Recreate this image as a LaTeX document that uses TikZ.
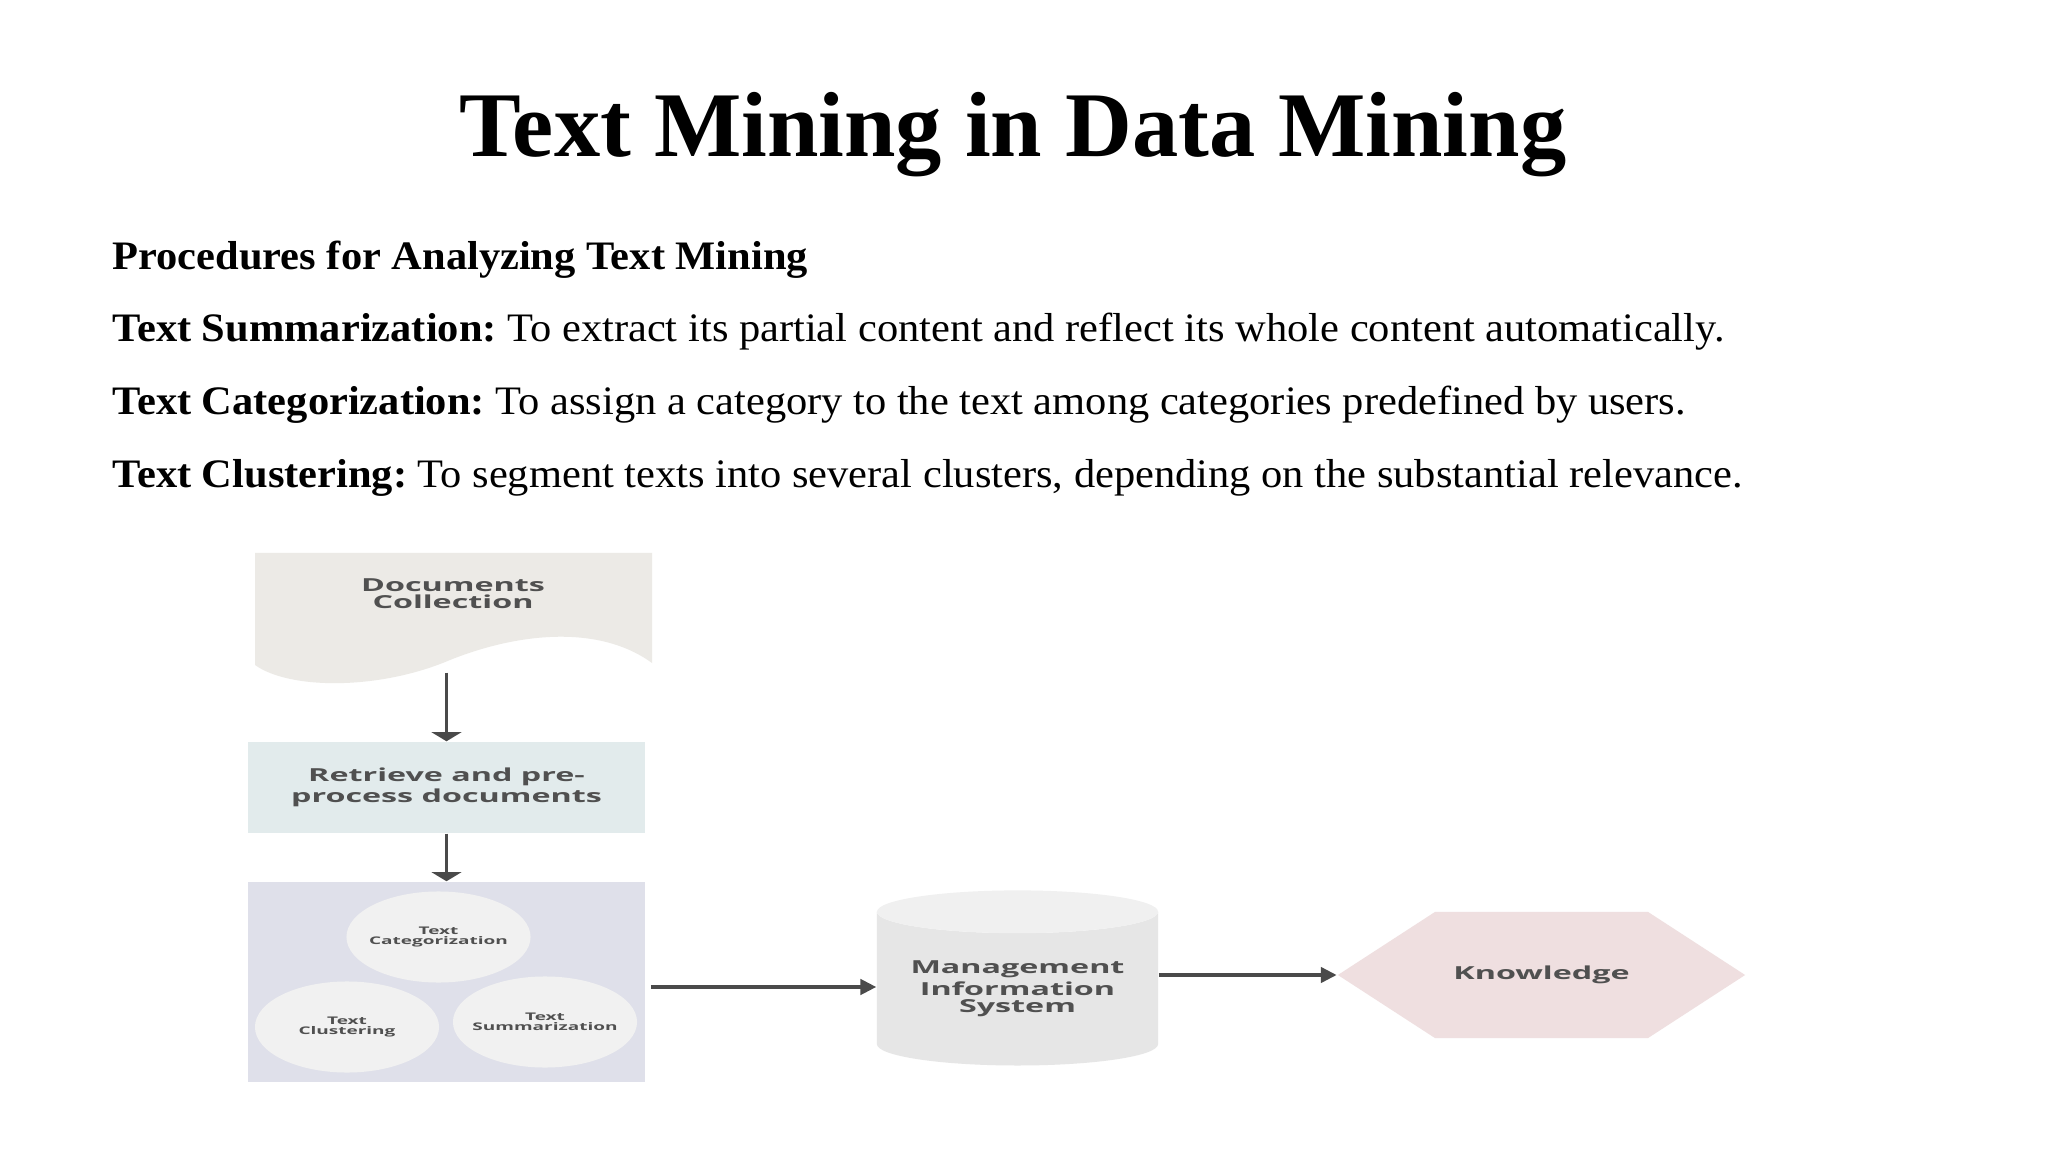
\documentclass[tikz,border=0pt]{standalone}
\usepackage{fontspec}
\setmainfont{Liberation Serif}
\newfontfamily\bodyfont[FakeStretch=1.05]{Liberation Serif}
\newfontfamily\diagfont[FakeStretch=1.8]{Open Sans}
\usetikzlibrary{arrows.meta,shapes.geometric,shapes.symbols}
\definecolor{docfill}{HTML}{ECEAE6}
\definecolor{prepfill}{HTML}{E2EBEC}
\definecolor{toolfill}{HTML}{DFE0EA}
\definecolor{blobfill}{HTML}{F1F1F1}
\definecolor{misbody}{HTML}{E6E6E6}
\definecolor{mistop}{HTML}{F0F0F0}
\definecolor{knowfill}{HTML}{EFDFE0}
\definecolor{labelgray}{HTML}{505050}
\definecolor{arrowgray}{HTML}{4A4A4A}
\frenchspacing
\begin{document}
\begin{tikzpicture}[x=0.01cm, y=-0.01cm,
	lbl/.style={font=\diagfont\bfseries\fontsize{5.1}{4.84}\selectfont, text=labelgray, align=center, inner sep=0pt},
	small/.style={font=\diagfont\bfseries\fontsize{3}{2.85}\selectfont, text=labelgray, align=center, inner sep=0pt},
	blob/.style={small, ellipse, fill=blobfill, inner xsep=-2.5pt, minimum width=1.84cm, minimum height=0.91cm},
	down/.style={draw=arrowgray, line width=0.9pt, -{Triangle[width=8.5pt,length=2.6pt]}},
	side/.style={draw=arrowgray, line width=0.9pt, -{Triangle[width=4.4pt,length=4.5pt]}},
	body/.style={anchor=base west, inner sep=0pt, font=\bodyfont\fontsize{11.5}{14}\selectfont}]
	\useasboundingbox[fill=white] (0,0) rectangle (2048,1152);
	% heading and the list of procedures
	\node[anchor=base, inner sep=0pt, font=\bfseries\fontsize{26.3}{30}\selectfont] (title) at (1013,157) {Text Mining in Data Mining};
	\node[body] (proc) at (112,270) {\textbf{Procedures for Analyzing Text Mining}};
	\node[body] (summ) at (112,342) {\textbf{Text Summarization:} To extract its partial content and reflect its whole content automatically.};
	\node[body] (categ) at (112,415) {\textbf{Text Categorization:} To assign a category to the text among categories predefined by users.};
	\node[body] (clust) at (112,488) {\textbf{Text Clustering:} To segment texts into several clusters, depending on the substantial relevance.};
	% document shape with wavy bottom
	\fill[docfill] (255,553) -- (652,553) -- (652,663) .. controls (600,625) and (520,632) .. (450,660) .. controls (380,690) and (290,690) .. (255,665) -- cycle;
	\node[lbl, minimum width=3.97cm, minimum height=1.12cm] (doc) at (453.5,609) {};
	\node[lbl] (doctext) at (453,594) {Documents\\Collection};
	\node[lbl, fill=prepfill, minimum width=3.97cm, minimum height=0.91cm] (prep) at (446.5,787.5) {Retrieve and pre-\\process documents};
	\node[fill=toolfill, minimum width=3.97cm, minimum height=2cm] (tools) at (446.5,982) {};
	\node[blob] (cat) at (438.5,937) {Text\\Categorization};
	\node[blob] (clu) at (347,1027) {Text\\Clustering};
	\node[blob] (sum) at (545,1022) {Text\\Summarization};
	\node[lbl, cylinder, shape border rotate=90, aspect=0.2, cylinder uses custom fill, cylinder body fill=misbody, cylinder end fill=mistop, minimum width=2.81cm, minimum height=1.75cm] (mis) at (1017.5,989) {Management\\Information\\System};
	\node[lbl, signal, signal to=east and west, signal pointer angle=66, fill=knowfill, minimum width=4.07cm, minimum height=1.26cm] (know) at (1541.5,975) {Knowledge};
	% connectors
	\draw[down, shorten <=0.07cm] (prep.north |- doc.south) -- (prep.north);
	\draw[down] (prep.south) -- (tools.north);
	\coordinate (out) at ([shift={(5,5)}]tools.east);
	\draw[side] (out) -- (out -| mis.west);
	\draw[side] (mis.east |- know.west) -- (know.west);
\end{tikzpicture}
\end{document}
